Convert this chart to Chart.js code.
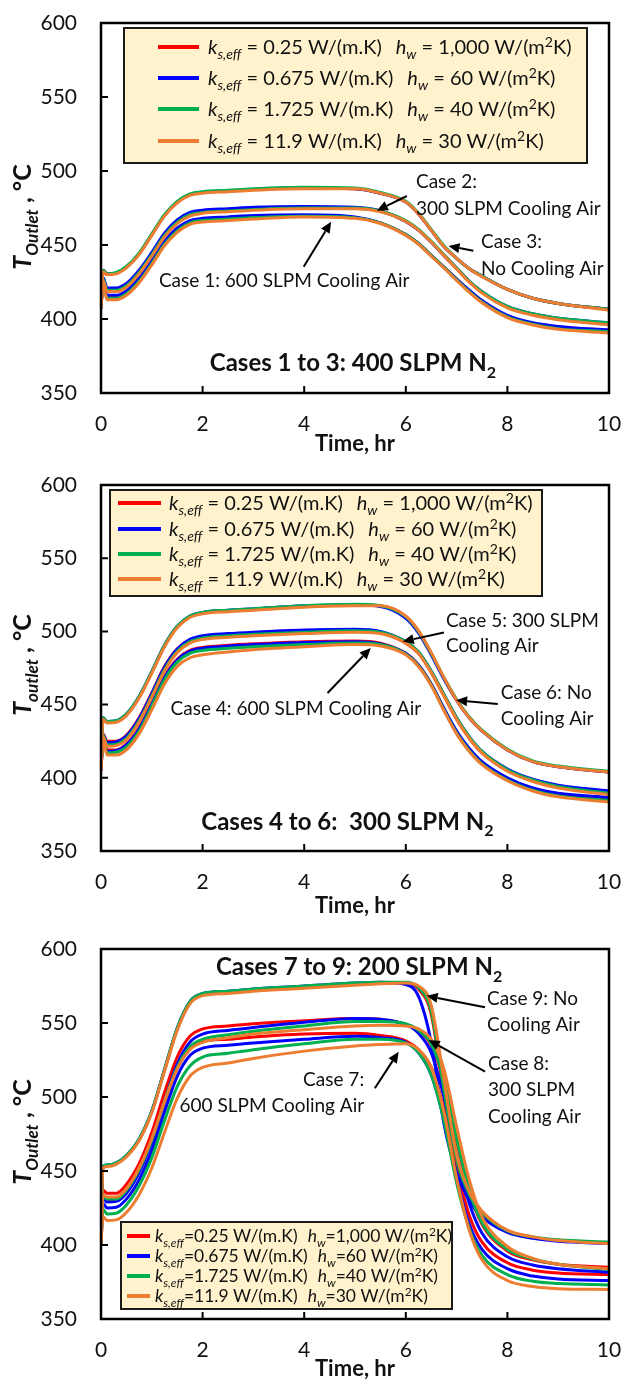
<!DOCTYPE html>
<html>
<head>
<meta charset="utf-8">
<script src="https://cdn.jsdelivr.net/npm/chart.js@4.4.0/dist/chart.umd.min.js"></script>
<style>
  html, body { margin: 0; padding: 0; background: #fff; }
  canvas { position: absolute; left: 0; }
</style>
</head>
<body>
<canvas id="c1" width="622" height="460" style="top:0px"></canvas>
<canvas id="c2" width="622" height="460" style="top:460px"></canvas>
<canvas id="c3" width="622" height="460" style="top:920px"></canvas>
<script>
// time grid (hr) shared by all curves
const TIME = [0, 0.04, 0.12, 0.3, 0.5, 0.75, 1, 1.25, 1.5, 1.75, 2, 2.5, 3, 4, 5, 5.5, 6, 6.25, 6.5, 6.75, 7, 7.25, 7.5, 8, 8.5, 9, 10];
const X_TICKS = [0, 2, 4, 6, 8, 10];
const Y_TICKS = [350, 400, 450, 500, 550, 600];

const KS_VALUES = ['0.25', '0.675', '1.725', '11.9'];
const HW_VALUES = ['1,000', '60', '40', '30'];
const COLORS = ['#ff0000', '#0000ff', '#00b050', '#ed7d31'];

// ---- Cases 1 to 3: 400 SLPM N2 ----
const P1_CASE3_RED = [409, 432, 430, 431, 435, 444, 457, 470, 479, 484, 485.5, 486.5, 487.5, 488.5, 488, 485, 479, 471, 460, 449, 441, 434, 429, 420, 414, 410.5, 406.5];
const P1_CASE3_BLUE = [408, 433, 430.5, 431, 435, 444, 457, 470, 479, 484, 485.5, 486.5, 487.5, 488.5, 488, 485, 479, 471, 460, 449, 441, 434, 429, 420, 414, 410.5, 406.5];
const P1_CASE3_GREEN = [409, 433, 430.5, 431.5, 435.5, 444.5, 457.5, 470.5, 479.5, 484.5, 486, 487, 488, 489, 488.5, 485.5, 479.5, 471.5, 460.5, 449.5, 441, 434, 429, 420, 414, 410.5, 406.5];
const P1_CASE3_ORANGE = [408, 432, 430, 430.5, 434.5, 443.5, 456.5, 469.5, 478.5, 483.5, 485, 486, 487, 488, 488, 485, 479, 471, 460, 449, 441, 434, 428.5, 420, 414, 410.5, 406];

const P1_CASE2_RED = [408, 427, 420, 420, 423, 432, 444, 457, 466, 471, 472.5, 473.5, 474.5, 475.5, 475, 473, 466, 460, 452, 443, 434, 425, 418, 408, 403, 400, 397];
const P1_CASE2_BLUE = [407, 428, 421, 421, 424, 433, 445, 458, 467, 472, 473.5, 474.5, 475.5, 476, 475.5, 473, 466, 460, 452, 443, 434.5, 425.5, 418.5, 408.5, 403.5, 400.5, 397.5];
const P1_CASE2_GREEN = [408, 427, 419.5, 419.5, 422.5, 431.5, 443.5, 456.5, 465.5, 470.5, 472, 473, 474, 475, 475, 473, 466.5, 460.5, 452.5, 443.5, 434.5, 425.5, 418.5, 408.5, 403.5, 400.5, 397.5];
const P1_CASE2_ORANGE = [407, 426, 418.5, 418.5, 421.5, 430.5, 442.5, 455.5, 464.5, 469.5, 471.5, 472.5, 473.5, 474.5, 474.5, 472.5, 466, 460, 452, 443, 434, 425, 417.5, 407.5, 402.5, 399.5, 396];

const P1_CASE1_RED = [408, 424, 414.5, 414.5, 417.5, 426, 438, 451, 460, 465.5, 467, 468, 469, 470, 468.5, 465, 457, 451, 443, 435, 427, 419, 412, 402, 397, 394.5, 392.5];
const P1_CASE1_BLUE = [407, 425, 416, 416, 419, 427.5, 439.5, 452.5, 461.5, 466.5, 468, 469, 470, 470.5, 469, 465, 457, 451, 443, 435, 427, 419.5, 412.5, 402.5, 397.5, 395, 392.5];
const P1_CASE1_GREEN = [408, 424, 414, 414, 417, 425.5, 437.5, 450.5, 459.5, 465, 466.5, 467.5, 468.5, 469.5, 468.5, 465, 457, 451, 443, 435, 426.5, 418.5, 411.5, 401.5, 396.5, 393.5, 391.5];
const P1_CASE1_ORANGE = [407, 423, 413, 413, 416, 424.5, 436.5, 449.5, 458.5, 464, 465.5, 466.5, 467.5, 469, 468, 464.5, 456.5, 450.5, 442.5, 434.5, 426, 418, 411, 401, 396, 393, 390.5];

// ---- Cases 4 to 6: 300 SLPM N2 ----
const P2_CASE6_RED = [407, 440, 438, 438.5, 443, 455, 472, 490, 503, 510, 512.5, 514, 515, 517, 518, 517.5, 510, 500, 485, 468, 453, 441, 432, 419, 411, 407.5, 404];
const P2_CASE6_BLUE = [406, 441, 438.5, 439, 443.5, 455.5, 472.5, 490.5, 503.5, 510.5, 513, 514.5, 515.5, 517.5, 518, 517, 509, 499, 484, 467.5, 453, 441, 432, 419, 411, 407.5, 404];
const P2_CASE6_GREEN = [407, 441, 438.5, 439, 443.5, 455.5, 472.5, 490.5, 503.5, 510.5, 513, 514.5, 515.5, 517.5, 518.5, 517.5, 510, 500, 485, 468.5, 453.5, 441.5, 432.5, 419.5, 411.5, 408, 404.5];
const P2_CASE6_ORANGE = [406, 440, 437.5, 438, 442.5, 454.5, 471.5, 489.5, 502.5, 509.5, 512, 513.5, 514.5, 516.5, 517.5, 517.5, 510.5, 500.5, 485.5, 468.5, 453, 441, 432, 419, 411, 407.5, 404];

const P2_CASE5_RED = [406, 430, 425, 425, 429, 441, 458, 476, 488, 494, 496, 497.5, 498.5, 500, 500.5, 499, 492, 485, 472, 456, 440, 427, 417, 405, 398, 394, 390.5];
const P2_CASE5_BLUE = [405, 429, 424, 424.5, 428.5, 440.5, 457.5, 475.5, 488, 494.5, 497, 498.5, 499.5, 501, 501.5, 500, 493, 486, 473, 457, 441, 428, 418, 406, 399, 395, 391];
const P2_CASE5_GREEN = [406, 429, 422.5, 423, 427, 439, 456, 474, 486.5, 493, 495.5, 497, 498, 499.5, 500.5, 499.5, 493, 486, 473, 457, 441, 428, 418, 405.5, 398.5, 394, 389.5];
const P2_CASE5_ORANGE = [405, 428, 421.5, 422, 426, 438, 455, 473, 485.5, 492, 494.5, 496, 497, 498.5, 499.5, 498.5, 492, 485, 472, 456, 440, 427, 417, 404.5, 397.5, 393, 388.5];

const P2_CASE4_RED = [406, 428, 419, 419, 423, 434, 451, 469, 481, 487, 489, 490.5, 491.5, 493, 493.5, 492, 485, 477, 464, 447, 431, 419, 410, 399, 392, 388.5, 385.5];
const P2_CASE4_BLUE = [405, 427, 418, 418.5, 422.5, 433.5, 450.5, 468.5, 480.5, 486.5, 488.5, 490, 491, 492.5, 493, 491.5, 485, 477, 464, 447.5, 432, 420, 411, 400, 393, 389.5, 386.5];
const P2_CASE4_GREEN = [406, 427, 417, 417.5, 421, 432, 449, 467, 479, 485, 487, 488.5, 489.5, 491, 492, 491, 484.5, 476.5, 463.5, 446.5, 430.5, 418.5, 409.5, 398.5, 391.5, 387.5, 384.5];
const P2_CASE4_ORANGE = [405, 426, 415.5, 415.5, 419, 430, 446.5, 464, 476, 482, 484, 486, 487.5, 489.5, 491, 490, 484, 476, 463, 446, 430, 418, 409, 398, 391, 387, 383.5];

// ---- Cases 7 to 9: 200 SLPM N2 ----
const P3_CASE9_RED = [402, 452, 453.5, 455, 460, 471, 490, 518, 546, 564, 569.5, 571, 572.5, 574.5, 576.5, 577, 577, 573, 556, 502, 456, 433, 421, 409, 405, 403, 401.5];
const P3_CASE9_BLUE = [400, 453, 454, 455.5, 460.5, 471.5, 490.5, 518.5, 546.5, 564.5, 570, 571.5, 573, 575, 577, 577.5, 576, 568, 537, 482, 449, 430, 419, 408.5, 404.5, 402.5, 401];
const P3_CASE9_GREEN = [402, 453, 454, 455.5, 460.5, 471.5, 490.5, 518.5, 546.5, 564.5, 570, 571.5, 573, 575, 577, 577.5, 577.5, 574, 558, 505, 458, 434, 422, 409.5, 405.5, 403.5, 402];
const P3_CASE9_ORANGE = [401, 452, 453, 454.5, 459.5, 470.5, 489.5, 517.5, 545, 563, 568.5, 570, 571.5, 573.5, 575.5, 576.5, 577, 575, 562, 512, 461, 436, 423, 410, 405.5, 403, 401];

const P3_CASE8_RED = [402, 437, 435, 435, 441, 455, 476, 503, 527, 541, 546, 548, 549.5, 551.5, 553, 552.5, 549, 545, 535, 510, 470, 436, 414, 396, 390, 387, 385];
const P3_CASE8_BLUE = [400, 432, 429, 429.5, 435, 449, 470, 497, 522, 537, 542.5, 545, 547, 550.5, 553, 552.5, 549, 543, 530, 500, 460, 428, 408, 392, 386.5, 384, 381.5];
const P3_CASE8_GREEN = [402, 433, 431, 431, 437, 451, 471, 497, 520, 534, 539, 542, 544.5, 548, 551, 551, 549.5, 545, 536, 512, 472, 437, 415, 397, 390.5, 387, 383.5];
const P3_CASE8_ORANGE = [401, 434, 432.5, 432.5, 438, 452, 472, 497, 519, 532, 537, 540, 542.5, 545.5, 548, 548.5, 548, 546, 539, 519, 480, 444, 419, 399, 391, 387, 384];

const P3_CASE7_RED = [402, 433, 430, 430.5, 436, 450, 470, 496, 520, 533, 537.5, 539, 540.5, 542.5, 543, 541.5, 538, 532, 520, 492, 452, 420, 402, 388, 383, 381, 380];
const P3_CASE7_BLUE = [400, 428, 425, 425.5, 431, 444, 464, 490, 514, 528, 533, 535, 536.5, 539, 541, 540, 537, 530, 515, 485, 445, 414, 397, 384, 379, 377, 376];
const P3_CASE7_GREEN = [402, 424, 421, 421.5, 427, 440, 459, 484, 507, 521, 527, 529.5, 532, 536, 539, 539, 536.5, 530, 515, 484, 442, 411, 393, 380, 375.5, 374, 373];
const P3_CASE7_ORANGE = [401, 419, 416.5, 417, 422, 434, 452, 476, 499, 514, 520, 523, 526, 531, 534.5, 535.5, 536, 532, 520, 490, 445, 410, 390, 376, 372, 370.5, 370];

const FONT = 'Lato, "Open Sans", sans-serif';

function fontFor(kind, size) {
  const small = Math.round(size * 0.68);
  switch (kind) {
    case 'i': return `italic ${size}px ${FONT}`;
    case 'sub': return `italic ${small}px ${FONT}`;
    case 'sup': return `${small}px ${FONT}`;
    case 'b': return `bold ${size}px ${FONT}`;
    case 'bsub': return `bold ${small}px ${FONT}`;
    case 'bi': return `bold italic ${size}px ${FONT}`;
    case 'bisub': return `bold italic ${small}px ${FONT}`;
    default: return `${size}px ${FONT}`;
  }
}

function richWidth(ctx, segs, size) {
  let w = 0;
  segs.forEach(([txt, kind]) => { ctx.font = fontFor(kind, size); w += ctx.measureText(txt).width; });
  return w;
}

// draws mixed text; y is the visual middle of the line
function drawRich(ctx, segs, x, y, size, align) {
  const w = richWidth(ctx, segs, size);
  let cx = align === 'center' ? x - w / 2 : align === 'right' ? x - w : x;
  const base = y + size * 0.35;
  ctx.textBaseline = 'alphabetic';
  ctx.textAlign = 'left';
  segs.forEach(([txt, kind]) => {
    ctx.font = fontFor(kind, size);
    let dy = 0;
    if (kind.endsWith('sub')) dy = size * 0.27;
    if (kind === 'sup') dy = -size * 0.36;
    ctx.fillText(txt, cx, base + dy);
    cx += ctx.measureText(txt).width;
  });
  return w;
}

function arrow(ctx, x1, y1, x2, y2) {
  const a = Math.atan2(y2 - y1, x2 - x1), L = 11, W = 5;
  const bx = x2 - L * Math.cos(a), by = y2 - L * Math.sin(a);
  ctx.lineWidth = 2;
  ctx.beginPath(); ctx.moveTo(x1, y1); ctx.lineTo(bx, by); ctx.stroke();
  ctx.beginPath();
  ctx.moveTo(x2, y2);
  ctx.lineTo(bx - W * Math.sin(a), by + W * Math.cos(a));
  ctx.lineTo(bx + W * Math.sin(a), by - W * Math.cos(a));
  ctx.closePath(); ctx.fill();
}

function legendRow(i, compact) {
  const eq = compact ? '=' : ' = ';
  return {
    k: [['k', 'i'], ['s,eff', 'sub'], [eq + KS_VALUES[i] + ' W/(m.K)', 'n']],
    h: [['h', 'i'], ['w', 'sub'], [eq + HW_VALUES[i] + ' W/(m', 'n'], ['2', 'sup'], ['K)', 'n']]
  };
}

function decor(cfg) {
  return {
    id: 'decor',
    afterDatasetsDraw(chart) {
      const ctx = chart.ctx, ca = chart.chartArea;
      const xs = chart.scales.x, ys = chart.scales.y;
      const px = t => xs.getPixelForValue(t), py = v => ys.getPixelForValue(v);
      ctx.save();
      ctx.fillStyle = '#000'; ctx.strokeStyle = '#000';

      // frame and inward tick marks
      ctx.lineWidth = 2.5;
      ctx.strokeRect(ca.left, ca.top, ca.right - ca.left, ca.bottom - ca.top);
      ctx.lineWidth = 2;
      ctx.beginPath();
      X_TICKS.slice(1, -1).forEach(t => { ctx.moveTo(px(t), ca.bottom); ctx.lineTo(px(t), ca.bottom - 7); });
      Y_TICKS.slice(1, -1).forEach(v => { ctx.moveTo(ca.left, py(v)); ctx.lineTo(ca.left + 7, py(v)); });
      ctx.stroke();

      // legend box
      const lg = cfg.legend;
      const lx = ca.left + lg.x, ly = ca.top + lg.y;
      ctx.fillStyle = '#fff2cc';
      ctx.fillRect(lx, ly, lg.w, lg.h);
      ctx.lineWidth = 2; ctx.strokeStyle = '#1a1a1a';
      ctx.strokeRect(lx, ly, lg.w, lg.h);
      lg.rows.forEach((ry, i) => {
        const y = ca.top + ry;
        ctx.strokeStyle = COLORS[i]; ctx.lineWidth = 4;
        ctx.beginPath(); ctx.moveTo(ca.left + lg.l0, y); ctx.lineTo(ca.left + lg.l1, y); ctx.stroke();
        ctx.fillStyle = '#111';
        const row = legendRow(i, lg.compact);
        const w = drawRich(ctx, row.k, ca.left + lg.tx, y, lg.size, 'left');
        drawRich(ctx, row.h, ca.left + lg.tx + w + lg.gap, y, lg.size, 'left');
      });

      // notes and arrows
      ctx.fillStyle = '#111'; ctx.strokeStyle = '#000';
      cfg.notes.forEach(n => drawRich(ctx, n.segs, px(n.t), py(n.v), n.size || 19, n.align || 'left'));
      ctx.fillStyle = '#000';
      cfg.arrows.forEach(a => arrow(ctx, px(a[0]), py(a[1]), px(a[2]), py(a[3])));

      // axis titles
      ctx.fillStyle = '#111';
      drawRich(ctx, [['Time, hr', 'b']], (ca.left + ca.right) / 2, ca.bottom + cfg.xTitleDy, 22, 'center');
      ctx.save();
      ctx.translate(22, (ca.top + ca.bottom) / 2 + cfg.yTitleDy);
      ctx.rotate(-Math.PI / 2);
      drawRich(ctx, [['T', 'bi'], [cfg.outletWord, 'bisub'], [' , °C', 'b']], 0, 0, 25, 'center');
      ctx.restore();

      ctx.restore();
    }
  };
}

function makeChart(id, cfg, seriesByColor) {
  const datasets = [];
  seriesByColor.forEach((group, ci) => {
    group.forEach(vals => {
      datasets.push({
        data: TIME.map((t, i) => ({ x: t, y: vals[i] })),
        borderColor: COLORS[ci],
        borderWidth: 3,
        pointRadius: 0,
        fill: false,
        order: COLORS.length - ci,
        cubicInterpolationMode: 'monotone'
      });
    });
  });
  const tickFont = { family: FONT, size: 21 };
  new Chart(document.getElementById(id), {
    type: 'line',
    data: { datasets },
    options: {
      responsive: false,
      animation: false,
      events: [],
      layout: { padding: { left: 0, right: 13, top: cfg.padTop, bottom: 0 } },
      plugins: { legend: { display: false }, tooltip: { enabled: false } },
      scales: {
        x: {
          type: 'linear', min: 0, max: 10,
          afterBuildTicks: s => { s.ticks = X_TICKS.map(v => ({ value: v })); },
          ticks: { font: tickFont, color: '#111', padding: 19, maxRotation: 0 },
          grid: { display: false, drawTicks: false },
          border: { display: false },
          afterFit: s => { s.height = cfg.xHeight; s.paddingLeft = 0; s.paddingRight = 0; }
        },
        y: {
          min: 350, max: 600,
          afterBuildTicks: s => { s.ticks = Y_TICKS.map(v => ({ value: v })); },
          ticks: { font: tickFont, color: '#111', padding: 24 },
          grid: { display: false, drawTicks: false },
          border: { display: false },
          afterFit: s => { s.width = 101; s.paddingTop = 0; s.paddingBottom = 0; }
        }
      }
    },
    plugins: [decor(cfg)]
  });
}

makeChart('c1', {
  padTop: 23, xHeight: 67, xTitleDy: 50, yTitleDy: 9, outletWord: 'Outlet',
  legend: { x: 23, y: 5, w: 463, h: 135, rows: [24, 55, 86, 118], l0: 57, l1: 98, tx: 107, gap: 14, size: 20, compact: false },
  notes: [
    { t: 1.14, v: 426.3, segs: [['Case 1: 600 SLPM Cooling Air', 'n']] },
    { t: 6.2, v: 492.8, segs: [['Case 2:', 'n']] },
    { t: 6.2, v: 475, segs: [['300 SLPM Cooling Air', 'n']] },
    { t: 7.48, v: 452.2, segs: [['Case 3:', 'n']] },
    { t: 7.48, v: 434.5, segs: [['No Cooling Air', 'n']] },
    { t: 4.96, v: 370.3, size: 24, align: 'center', segs: [['Cases 1 to 3: 400 SLPM N', 'b'], ['2', 'bsub']] }
  ],
  arrows: [[3.99, 435.3, 4.53, 465.7], [6.02, 483.1, 5.43, 473.2], [7.33, 446.1, 6.84, 449.3]]
}, [
  [P1_CASE3_RED, P1_CASE2_RED, P1_CASE1_RED],
  [P1_CASE3_BLUE, P1_CASE2_BLUE, P1_CASE1_BLUE],
  [P1_CASE3_GREEN, P1_CASE2_GREEN, P1_CASE1_GREEN],
  [P1_CASE3_ORANGE, P1_CASE2_ORANGE, P1_CASE1_ORANGE]
]);

makeChart('c2', {
  padTop: 25, xHeight: 69, xTitleDy: 54, yTitleDy: -3, outletWord: 'outlet',
  legend: { x: 9, y: 5, w: 432, h: 106, rows: [18, 44, 69, 94], l0: 17, l1: 60, tx: 68, gap: 14, size: 20, compact: false },
  notes: [
    { t: 6.79, v: 507.5, segs: [['Case 5: 300 SLPM', 'n']] },
    { t: 6.79, v: 490.4, segs: [['Cooling Air', 'n']] },
    { t: 1.37, v: 447.7, segs: [['Case 4: 600 SLPM Cooling Air', 'n']] },
    { t: 7.87, v: 458.6, segs: [['Case 6: No', 'n']] },
    { t: 7.87, v: 440.9, segs: [['Cooling Air', 'n']] },
    { t: 4.85, v: 370.4, size: 24, align: 'center', segs: [['Cases 4 to 6:  300 SLPM N', 'b'], ['2', 'bsub']] }
  ],
  arrows: [[6.75, 499.3, 5.94, 493.1], [4.46, 457.9, 5.31, 488.6], [7.81, 450.4, 6.99, 452.9]]
}, [
  [P2_CASE6_RED, P2_CASE5_RED, P2_CASE4_RED],
  [P2_CASE6_BLUE, P2_CASE5_BLUE, P2_CASE4_BLUE],
  [P2_CASE6_GREEN, P2_CASE5_GREEN, P2_CASE4_GREEN],
  [P2_CASE6_ORANGE, P2_CASE5_ORANGE, P2_CASE4_ORANGE]
]);

makeChart('c3', {
  padTop: 29, xHeight: 61, xTitleDy: 49, yTitleDy: -2, outletWord: 'Outlet',
  legend: { x: 20, y: 273, w: 331, h: 87, rows: [287, 307, 327, 347], l0: 26, l1: 49, tx: 54, gap: 10, size: 17.5, compact: true },
  notes: [
    { t: 5.08, v: 588, size: 24, align: 'center', segs: [['Cases 7 to 9: 200 SLPM N', 'b'], ['2', 'bsub']] },
    { t: 7.6, v: 566.7, segs: [['Case 9: No', 'n']] },
    { t: 7.6, v: 549.3, segs: [['Cooling Air', 'n']] },
    { t: 7.62, v: 522.8, segs: [['Case 8:', 'n']] },
    { t: 7.62, v: 505.2, segs: [['300 SLPM', 'n']] },
    { t: 7.62, v: 487.2, segs: [['Cooling Air', 'n']] },
    { t: 5.18, v: 512, align: 'right', segs: [['Case 7:', 'n']] },
    { t: 5.18, v: 494.6, align: 'right', segs: [['600 SLPM Cooling Air', 'n']] }
  ],
  arrows: [[7.56, 560.6, 6.41, 568.4], [7.56, 517.1, 6.45, 538.5], [5.39, 505.9, 5.86, 530.6]]
}, [
  [P3_CASE9_RED, P3_CASE8_RED, P3_CASE7_RED],
  [P3_CASE9_BLUE, P3_CASE8_BLUE, P3_CASE7_BLUE],
  [P3_CASE9_GREEN, P3_CASE8_GREEN, P3_CASE7_GREEN],
  [P3_CASE9_ORANGE, P3_CASE8_ORANGE, P3_CASE7_ORANGE]
]);
</script>
</body>
</html>
